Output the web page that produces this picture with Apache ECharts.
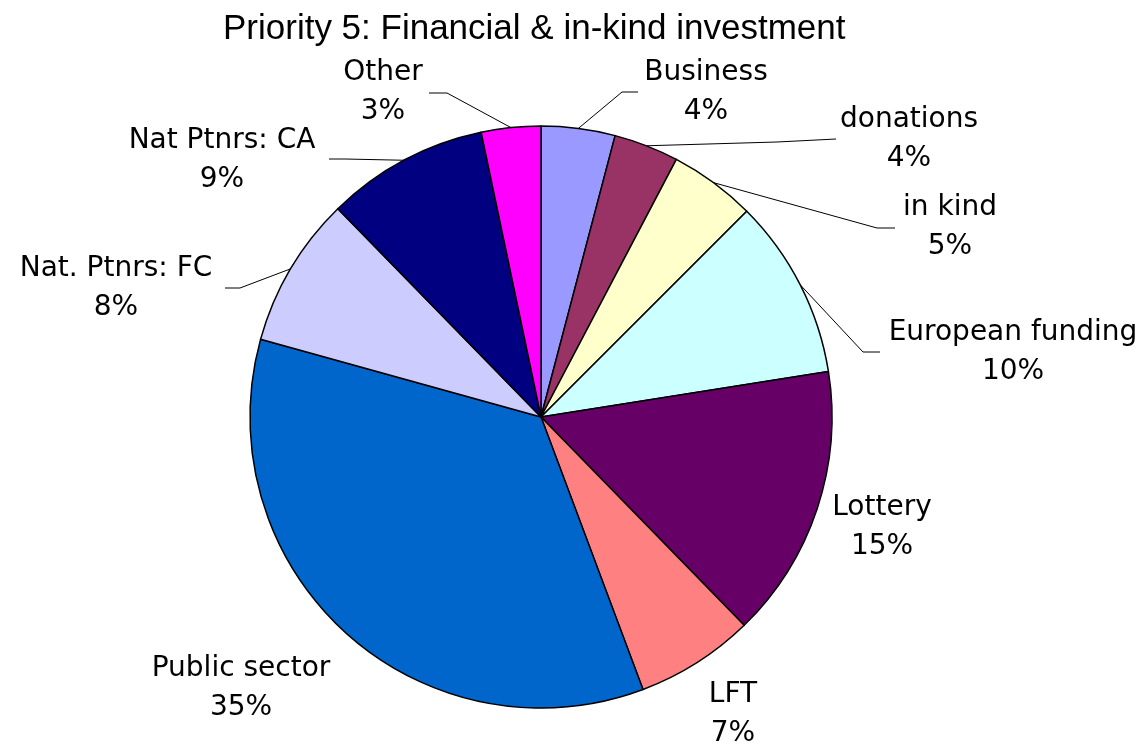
<!DOCTYPE html>
<html>
<head>
<meta charset="utf-8">
<script src="https://cdn.jsdelivr.net/npm/echarts@6/dist/echarts.min.js"></script>
<style>
  html, body { margin: 0; padding: 0; background: #fff; }
  #chart { width: 1146px; height: 749px; }
</style>
</head>
<body>
<div id="chart"></div>
<script>
// slices, clockwise from 12 o'clock
const names = ["Business", "donations", "in kind", "European funding", "Lottery",
  "LFT", "Public sector", "Nat. Ptnrs: FC", "Nat Ptnrs: CA", "Other"];
const shares = [4.1, 3.6, 4.8, 10.0, 15.2, 6.6, 35.0, 8.4, 9.0, 3.3];
const colors = ["#9999FF", "#993366", "#FFFFCC", "#CCFFFF", "#660066",
  "#FF8080", "#0066CC", "#CCCCFF", "#000080", "#FF00FF"];

// where each label sits (centre of the two-line block) and its leader line bends
const labelPos = [
  [706, 92], [909, 139], [950, 227], [1013, 352], [882, 527],
  [733, 714], [241, 688], [116, 288], [222, 160], [383, 92]
];
const leaders = [
  [[622, 92], [638, 92]],
  [[777, 142], [836, 139]],
  [[877, 228], [895, 228]],
  [[863, 352], [880, 352]],
  null,
  null,
  null,
  [[240, 288], [225, 288]],
  [[345, 159], [329, 159]],
  [[447, 93], [429, 93]]
];

const cx = 541, cy = 417, R = 291;
const total = shares.reduce((a, b) => a + b, 0);

function edgePoint(i) {
  let before = 0;
  for (let k = 0; k < i; k++) before += shares[k];
  const a = ((before + shares[i] / 2) / total) * 2 * Math.PI;
  return [cx + R * Math.sin(a), cy - R * Math.cos(a)];
}

const chart = echarts.init(document.getElementById("chart"));

const option = {
  animation: false,
  title: {
    text: "Priority 5: Financial & in-kind investment",
    left: 218,
    top: 7,
    textStyle: {
      fontFamily: "Liberation Sans",
      fontSize: 35,
      fontWeight: "normal",
      color: "#000"
    }
  },
  series: [
    {
      type: "pie",
      center: [cx, cy],
      radius: [0, R],
      startAngle: 90,
      clockwise: true,
      avoidLabelOverlap: false,
      data: names.map((n, i) => ({
        name: n,
        value: shares[i],
        itemStyle: { color: colors[i] },
        labelLine: { show: leaders[i] !== null }
      })),
      itemStyle: { borderColor: "#000", borderWidth: 1.5 },
      label: {
        show: true,
        position: "outside",
        formatter: (p) => p.name + "\n" + Math.round(p.percent) + "%",
        fontFamily: "DejaVu Sans",
        fontSize: 28,
        lineHeight: 39,
        color: "#000",
        align: "center"
      },
      labelLine: {
        show: true,
        lineStyle: { color: "#000", width: 1 }
      },
      labelLayout: (params) => {
        const i = params.dataIndex;
        const out = {
          x: labelPos[i][0],
          y: labelPos[i][1],
          align: "center",
          verticalAlign: "middle"
        };
        if (leaders[i]) {
          out.labelLinePoints = [edgePoint(i)].concat(leaders[i]);
        }
        return out;
      }
    }
  ]
};

chart.setOption(option);
</script>
</body>
</html>
